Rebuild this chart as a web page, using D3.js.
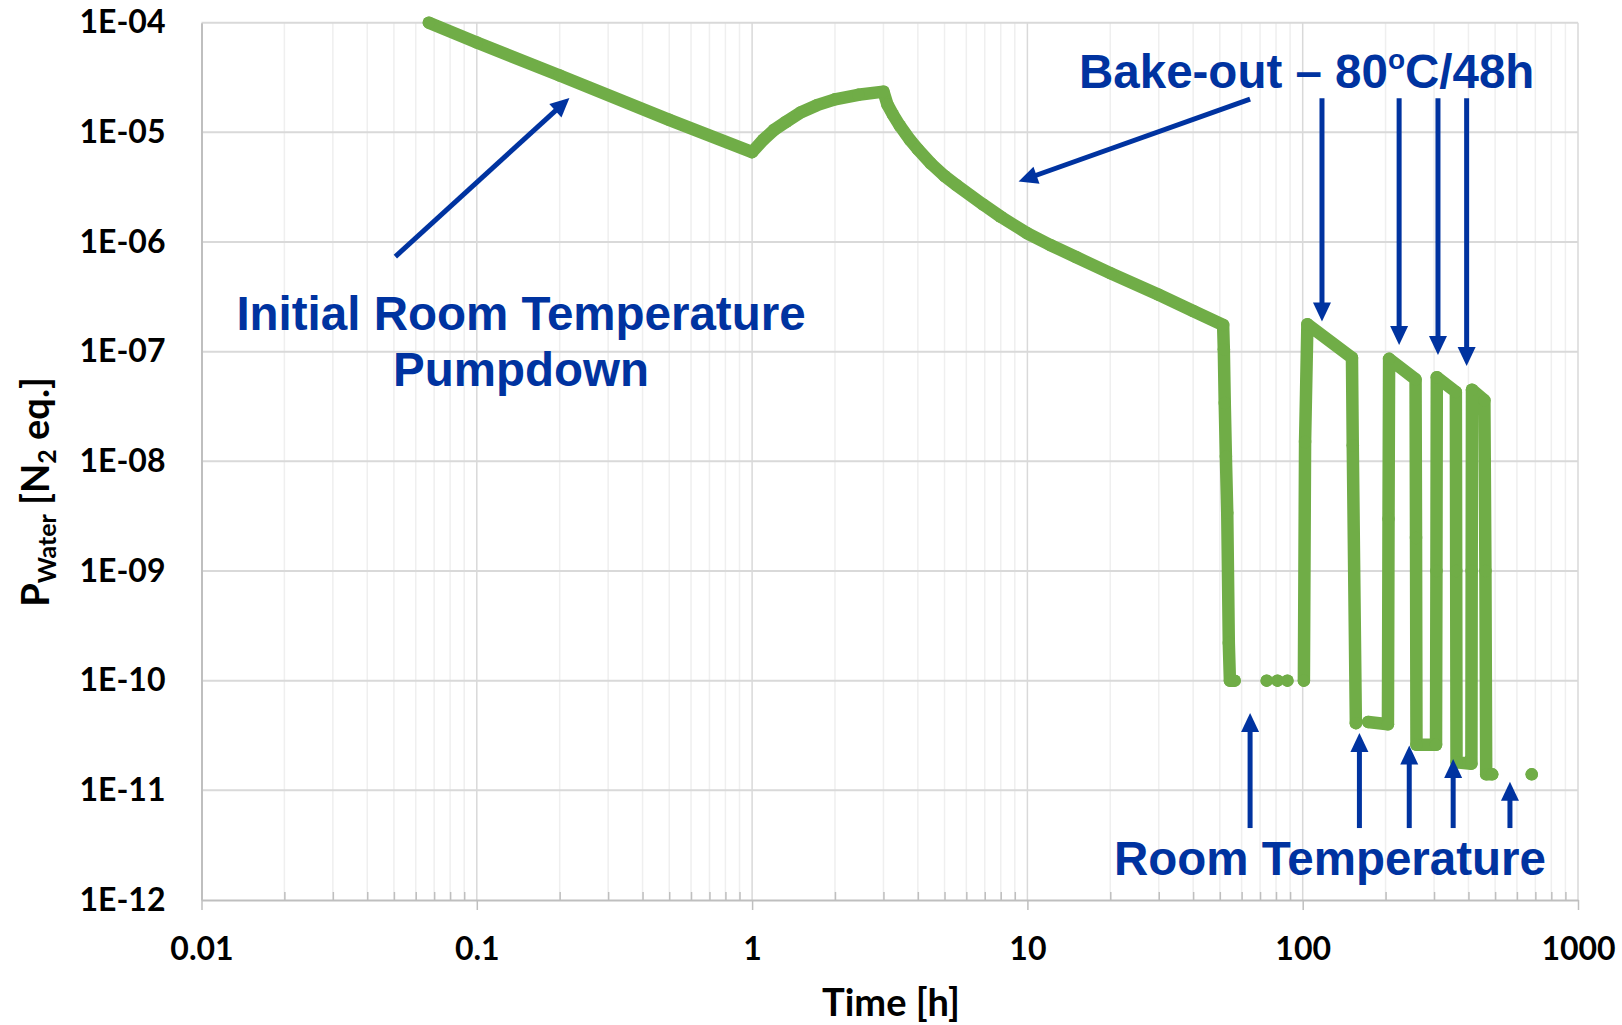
<!DOCTYPE html>
<html>
<head>
<meta charset="utf-8">
<script src="https://cdn.jsdelivr.net/npm/d3@7"></script>
<style>
  body { margin: 0; background: #ffffff; }
  svg { display: block; }
</style>
</head>
<body>
<svg id="chart" width="1622" height="1025"></svg>
<script>
// Water partial pressure during pump-down and repeated bake-out cycles.
// null entries mark gaps in the logged series.
const hours = [
  0.067, 0.1, 0.2, 0.5, 1.0,
  1.1, 1.2, 1.33, 1.5, 1.72, 2.0, 2.43, 3.0,
  3.1, 3.25, 3.44, 3.75, 4.0, 4.46, 5.0, 5.53, 6.9, 8.0, 10, 12.1, 15, 20, 30, 40, 51.4,
  51.7, 52.1, 52.6, 53.2, 53.9, 54.4, 56.6,
  null, 74, null, 81, null, 88, null,
  101, 102, 104, 151, 152, 156,
  null, 173, 204, 205, 206, 257, 258, 259, 305, 306, 307,
  360, 361, 362, 410, 411, 412, 457, 461, 464, 488,
  null, 679
];
const pressure = [
  1.0e-4, 6.6e-5, 3.3e-5, 1.3e-5, 6.6e-6,
  8.6e-6, 1.05e-5, 1.25e-5, 1.52e-5, 1.77e-5, 2.0e-5, 2.2e-5, 2.35e-5,
  1.8e-5, 1.45e-5, 1.15e-5, 8.5e-6, 7.0e-6, 5.2e-6, 4.0e-6, 3.3e-6, 2.2e-6, 1.7e-6, 1.2e-6, 9.4e-7, 7.3e-7, 5.2e-7, 3.3e-7, 2.35e-7, 1.75e-7,
  1.05e-7, 3.4e-8, 1.1e-8, 3.4e-9, 2.2e-10, 1.0e-10, 1.0e-10,
  null, 1.0e-10, null, 1.0e-10, null, 1.0e-10, null,
  1.0e-10, 1.5e-8, 1.78e-7, 8.8e-8, 1.4e-8, 4.1e-11,
  null, 4.2e-11, 4.0e-11, 3.0e-9, 8.6e-8, 5.6e-8, 2.0e-9, 2.6e-11, 2.6e-11, 1.0e-9, 5.85e-8,
  4.3e-8, 1.0e-9, 1.8e-11, 1.75e-11, 1.0e-9, 4.5e-8, 3.6e-8, 1.0e-9, 1.4e-11, 1.4e-11,
  null, 1.4e-11
];

const xTicks = [0.01, 0.1, 1, 10, 100, 1000];
const xTickLabels = ["0.01", "0.1", "1", "10", "100", "1000"];
const yTicks = [1e-12, 1e-11, 1e-10, 1e-9, 1e-8, 1e-7, 1e-6, 1e-5, 1e-4];
const yTickLabels = ["1E-12", "1E-11", "1E-10", "1E-09", "1E-08", "1E-07", "1E-06", "1E-05", "1E-04"];

// Annotation pointers in data space: [hours, pressure] tail -> head
const pointerTails = [
  [0.0506, 7.36e-7], [64.4, 2.01e-5],
  [117.5, 2.05e-5], [224, 2.05e-5], [310, 2.05e-5], [394, 2.05e-5],
  [64.4, 4.53e-12], [160.7, 4.53e-12], [243.8, 4.53e-12], [352, 4.53e-12], [566, 4.53e-12]
];
const pointerHeads = [
  [0.217, 2.06e-5], [9.29, 3.56e-6],
  [117.5, 1.88e-7], [224, 1.15e-7], [310, 9.35e-8], [394, 7.4e-8],
  [64.4, 5.07e-11], [160.7, 3.33e-11], [243.8, 2.56e-11], [352, 1.93e-11], [566, 1.2e-11]
];

const GREEN = "#70ad47";
const BLUE = "#0033a0";
const GRID = "#d9d9d9";
const GRID_MINOR = "#efefef";
const AXIS = "#bfbfbf";

const svg = d3.select("#chart");
const plotLeft = 201.5, plotRight = 1578, plotTop = 22.7, plotBottom = 900;

const x = d3.scaleLog().domain([0.01, 1000]).range([plotLeft, plotRight]);
const y = d3.scaleLog().domain([1e-12, 1e-4]).range([plotBottom, plotTop]);

// Minor values 2..9 within each decade
const minorX = [];
for (let d = 0.01; d < 999; d *= 10) {
  for (let k = 2; k <= 9; k++) minorX.push(+(k * d).toPrecision(3));
}

const grid = svg.append("g");
grid.selectAll("line.minor").data(minorX).join("line").attr("class", "minor")
  .attr("x1", d => x(d)).attr("x2", d => x(d))
  .attr("y1", plotTop).attr("y2", plotBottom)
  .attr("stroke", GRID_MINOR).attr("stroke-width", 1.5);
grid.selectAll("line.vmajor").data(xTicks.slice(1)).join("line").attr("class", "vmajor")
  .attr("x1", d => x(d)).attr("x2", d => x(d))
  .attr("y1", plotTop).attr("y2", plotBottom)
  .attr("stroke", GRID).attr("stroke-width", 1.5);
grid.selectAll("line.hmajor").data(yTicks.slice(1)).join("line").attr("class", "hmajor")
  .attr("x1", plotLeft).attr("x2", plotRight)
  .attr("y1", d => y(d)).attr("y2", d => y(d))
  .attr("stroke", GRID).attr("stroke-width", 2);

// Minor ticks point into the plot
const minorAxis = svg.append("g").attr("transform", `translate(0,${plotBottom})`)
  .call(d3.axisBottom(x).tickValues(minorX).tickSizeInner(-8).tickSizeOuter(0).tickFormat(""));
minorAxis.select(".domain").remove();
minorAxis.selectAll(".tick line").attr("stroke", AXIS).attr("stroke-width", 1.5);

const xAxis = svg.append("g").attr("transform", `translate(0,${plotBottom})`)
  .call(d3.axisBottom(x).tickValues(xTicks).tickFormat((d, i) => xTickLabels[i])
    .tickSizeInner(10).tickSizeOuter(0).tickPadding(27));
xAxis.select(".domain").attr("stroke", AXIS).attr("stroke-width", 2);
xAxis.selectAll(".tick line").attr("stroke", AXIS).attr("stroke-width", 1.5);
xAxis.selectAll(".tick text")
  .attr("font-family", "Lato, 'DejaVu Sans', sans-serif").attr("font-weight", 700)
  .attr("font-size", 32).attr("fill", "#000");

const yAxis = svg.append("g").attr("transform", `translate(${plotLeft},0)`)
  .call(d3.axisLeft(y).tickValues(yTicks).tickFormat((d, i) => yTickLabels[i])
    .tickSize(0).tickPadding(36));
yAxis.select(".domain").attr("stroke", AXIS).attr("stroke-width", 2);
yAxis.selectAll(".tick text")
  .attr("font-family", "Lato, 'DejaVu Sans', sans-serif").attr("font-weight", 700)
  .attr("font-size", 32).attr("fill", "#000");

// Axis titles
svg.append("text")
  .attr("x", 891).attr("y", 1016)
  .attr("text-anchor", "middle")
  .attr("font-family", "Lato, sans-serif").attr("font-weight", 700)
  .attr("font-size", 38).attr("fill", "#000")
  .text("Time [h]");

const yTitle = svg.append("text")
  .attr("transform", "translate(49,492) rotate(-90)")
  .attr("text-anchor", "middle")
  .attr("font-family", "Lato, sans-serif").attr("font-weight", 700)
  .attr("font-size", 38).attr("fill", "#000");
yTitle.append("tspan").text("P");
yTitle.append("tspan").attr("font-size", 25).attr("dy", 7).text("Water");
yTitle.append("tspan").attr("dy", -7).text(" [N");
yTitle.append("tspan").attr("font-size", 25).attr("dy", 7).text("2");
yTitle.append("tspan").attr("dy", -7).text(" eq.]");

// Data series
const points = hours.map((h, i) => ({ h, p: pressure[i] }));
const defined = d => d.h != null && d.p != null;
const line = d3.line().defined(defined).x(d => x(d.h)).y(d => y(d.p));
const lineWidth = 12.5;

const plot = svg.append("g");
plot.append("path")
  .attr("d", line(points))
  .attr("fill", "none")
  .attr("stroke", GREEN).attr("stroke-width", lineWidth)
  .attr("stroke-linejoin", "round").attr("stroke-linecap", "round");
plot.selectAll("circle").data(points.filter(defined)).join("circle")
  .attr("cx", d => x(d.h)).attr("cy", d => y(d.p)).attr("r", lineWidth / 2)
  .attr("fill", GREEN);

// Annotation pointers
const notes = svg.append("g");
const headLen = 19, headHalf = 9, shaft = 5;
pointerTails.forEach((tail, i) => {
  const head = pointerHeads[i];
  const x0 = x(tail[0]), y0 = y(tail[1]);
  const x1 = x(head[0]), y1 = y(head[1]);
  const len = Math.hypot(x1 - x0, y1 - y0);
  const ux = (x1 - x0) / len, uy = (y1 - y0) / len;
  const bx = x1 - ux * headLen, by = y1 - uy * headLen;
  notes.append("line")
    .attr("x1", x0).attr("y1", y0).attr("x2", bx + ux).attr("y2", by + uy)
    .attr("stroke", BLUE).attr("stroke-width", shaft);
  notes.append("path")
    .attr("d", `M${x1},${y1}L${bx - uy * headHalf},${by + ux * headHalf}L${bx + uy * headHalf},${by - ux * headHalf}Z`)
    .attr("fill", BLUE);
});

const labelFont = "'Liberation Sans', Arial, sans-serif";
function note(tx, ty, anchor) {
  return notes.append("text")
    .attr("x", tx).attr("y", ty).attr("text-anchor", anchor)
    .attr("font-family", labelFont).attr("font-weight", 700)
    .attr("font-size", 47.5).attr("fill", BLUE);
}
note(521, 330, "middle").text("Initial Room Temperature");
note(521, 386, "middle").text("Pumpdown");
const bake = note(1079, 88, "start");
bake.append("tspan").text("Bake-out \u2013 80");
bake.append("tspan").attr("font-size", 28).attr("dy", -19).text("o");
bake.append("tspan").attr("dy", 19).text("C/48h");
note(1114, 875, "start").text("Room Temperature");
</script>
</body>
</html>
